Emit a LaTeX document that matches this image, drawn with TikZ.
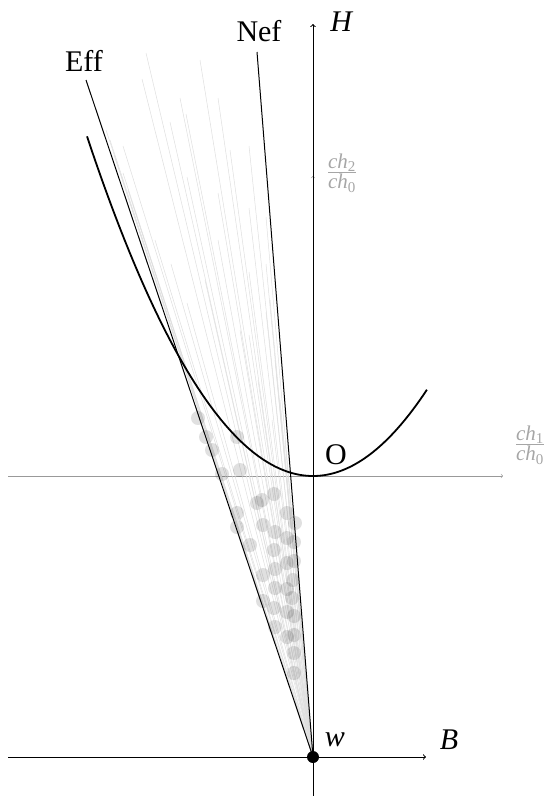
\documentclass[tikz,border=0pt]{standalone}
\usepackage{fontspec}
\usepackage{amsmath}
\setmainfont{Liberation Serif}
\begin{document}
\begin{tikzpicture}[x=1pt,y=-1pt,
  lab/.style={font=\fontsize{30}{36}\selectfont, inner sep=0pt},
  glab/.style={font=\fontsize{30}{36}\selectfont, inner sep=0pt, text=black!35},
  axis/.style={line width=1pt, ->},
  gaxis/.style={line width=0.6pt, black!40, ->},
  fan/.style={line width=0.5pt, black!13},
  dotc/.style={fill=black, opacity=0.12},
  cone/.style={line width=1pt},
  curve/.style={line width=1.8pt}]
\useasboundingbox (0,0) rectangle (545,796);
% coordinates
\coordinate (w) at (313,757);
\coordinate (Htop) at (313,24);
\coordinate (Hbot) at (313,796);
\coordinate (Bleft) at (8,757);
\coordinate (Bright) at (426,757);
\coordinate (gleft) at (8,476);
\coordinate (gright) at (503,476);
\coordinate (gtop) at (313,176);
\coordinate (effend) at (86,80);
\coordinate (nefend) at (257,52);
% grey axes
\draw[gaxis] (gleft) -- (gright);
\draw[gaxis] (Hbot) -- (gtop);
% fan of grey lines
\foreach \x/\y [count=\i] in {146/53, 142/79, 180/98, 186/114, 170/122, 218/98, 249/146, 123/146,
  187/177, 218/193, 249/208, 266/217, 218/240, 171/264, 249/272, 266/264, 187/303, 266/312,
  249/335, 106/130, 110/140, 114/155, 123/173, 128/190, 133/205, 200/60, 230/150, 275/360,
  270/300, 280/400, 285/440, 272/420, 258/380, 240/330, 205/280, 155/240, 180/350} {
  \coordinate (g\i) at (\x,\y);
  \draw[fan] (w) -- (g\i);
}
% dots
\foreach \x/\y in {198/418, 206/437, 212/450, 237/437, 222/474, 274/494, 262/500, 257/503,
  287/513, 237/513, 295/523, 263/525, 237/527, 275/532, 287/538, 294/542, 274/550, 287/563,
  294/561, 275/569, 263/575, 293/580, 275/588, 287/589, 263/601, 274/608, 287/612, 294/616,
  275/627, 287/637, 294/635, 294/653, 294/673, 292/598, 240/470, 250/545}
  \fill[dotc] (\x,\y) circle (7);
% cone lines
\draw[cone] (w) -- (effend);
\draw[cone] (w) -- (nefend);
% parabola
\draw[curve] plot[domain=-2.26:1.14, samples=120, variable=\t] ({313+100*\t},{476-66.5*\t*\t});
% axes
\draw[axis] (Hbot) -- (Htop);
\draw[axis] (Bleft) -- (Bright);
\fill (w) circle (6);
% labels
\node[lab] (Hl) at (342,22) {\textit{H}};
\node[lab] (Nefl) at (259,31) {Nef};
\node[lab] (Effl) at (84,61) {Eff};
\node[lab] (Ol) at (336,455) {O};
\node[lab] (wl) at (335,740) {\textit{w}};
\node[lab] (Bl) at (449,740) {\textit{B}};
\node[glab] (c2) at (342,173) {$\frac{\text{\itshape ch}_{\text{2}}}{\text{\itshape ch}_{\text{0}}}$};
\node[glab] (c1) at (530,445) {$\frac{\text{\itshape ch}_{\text{1}}}{\text{\itshape ch}_{\text{0}}}$};
\end{tikzpicture}
\end{document}
